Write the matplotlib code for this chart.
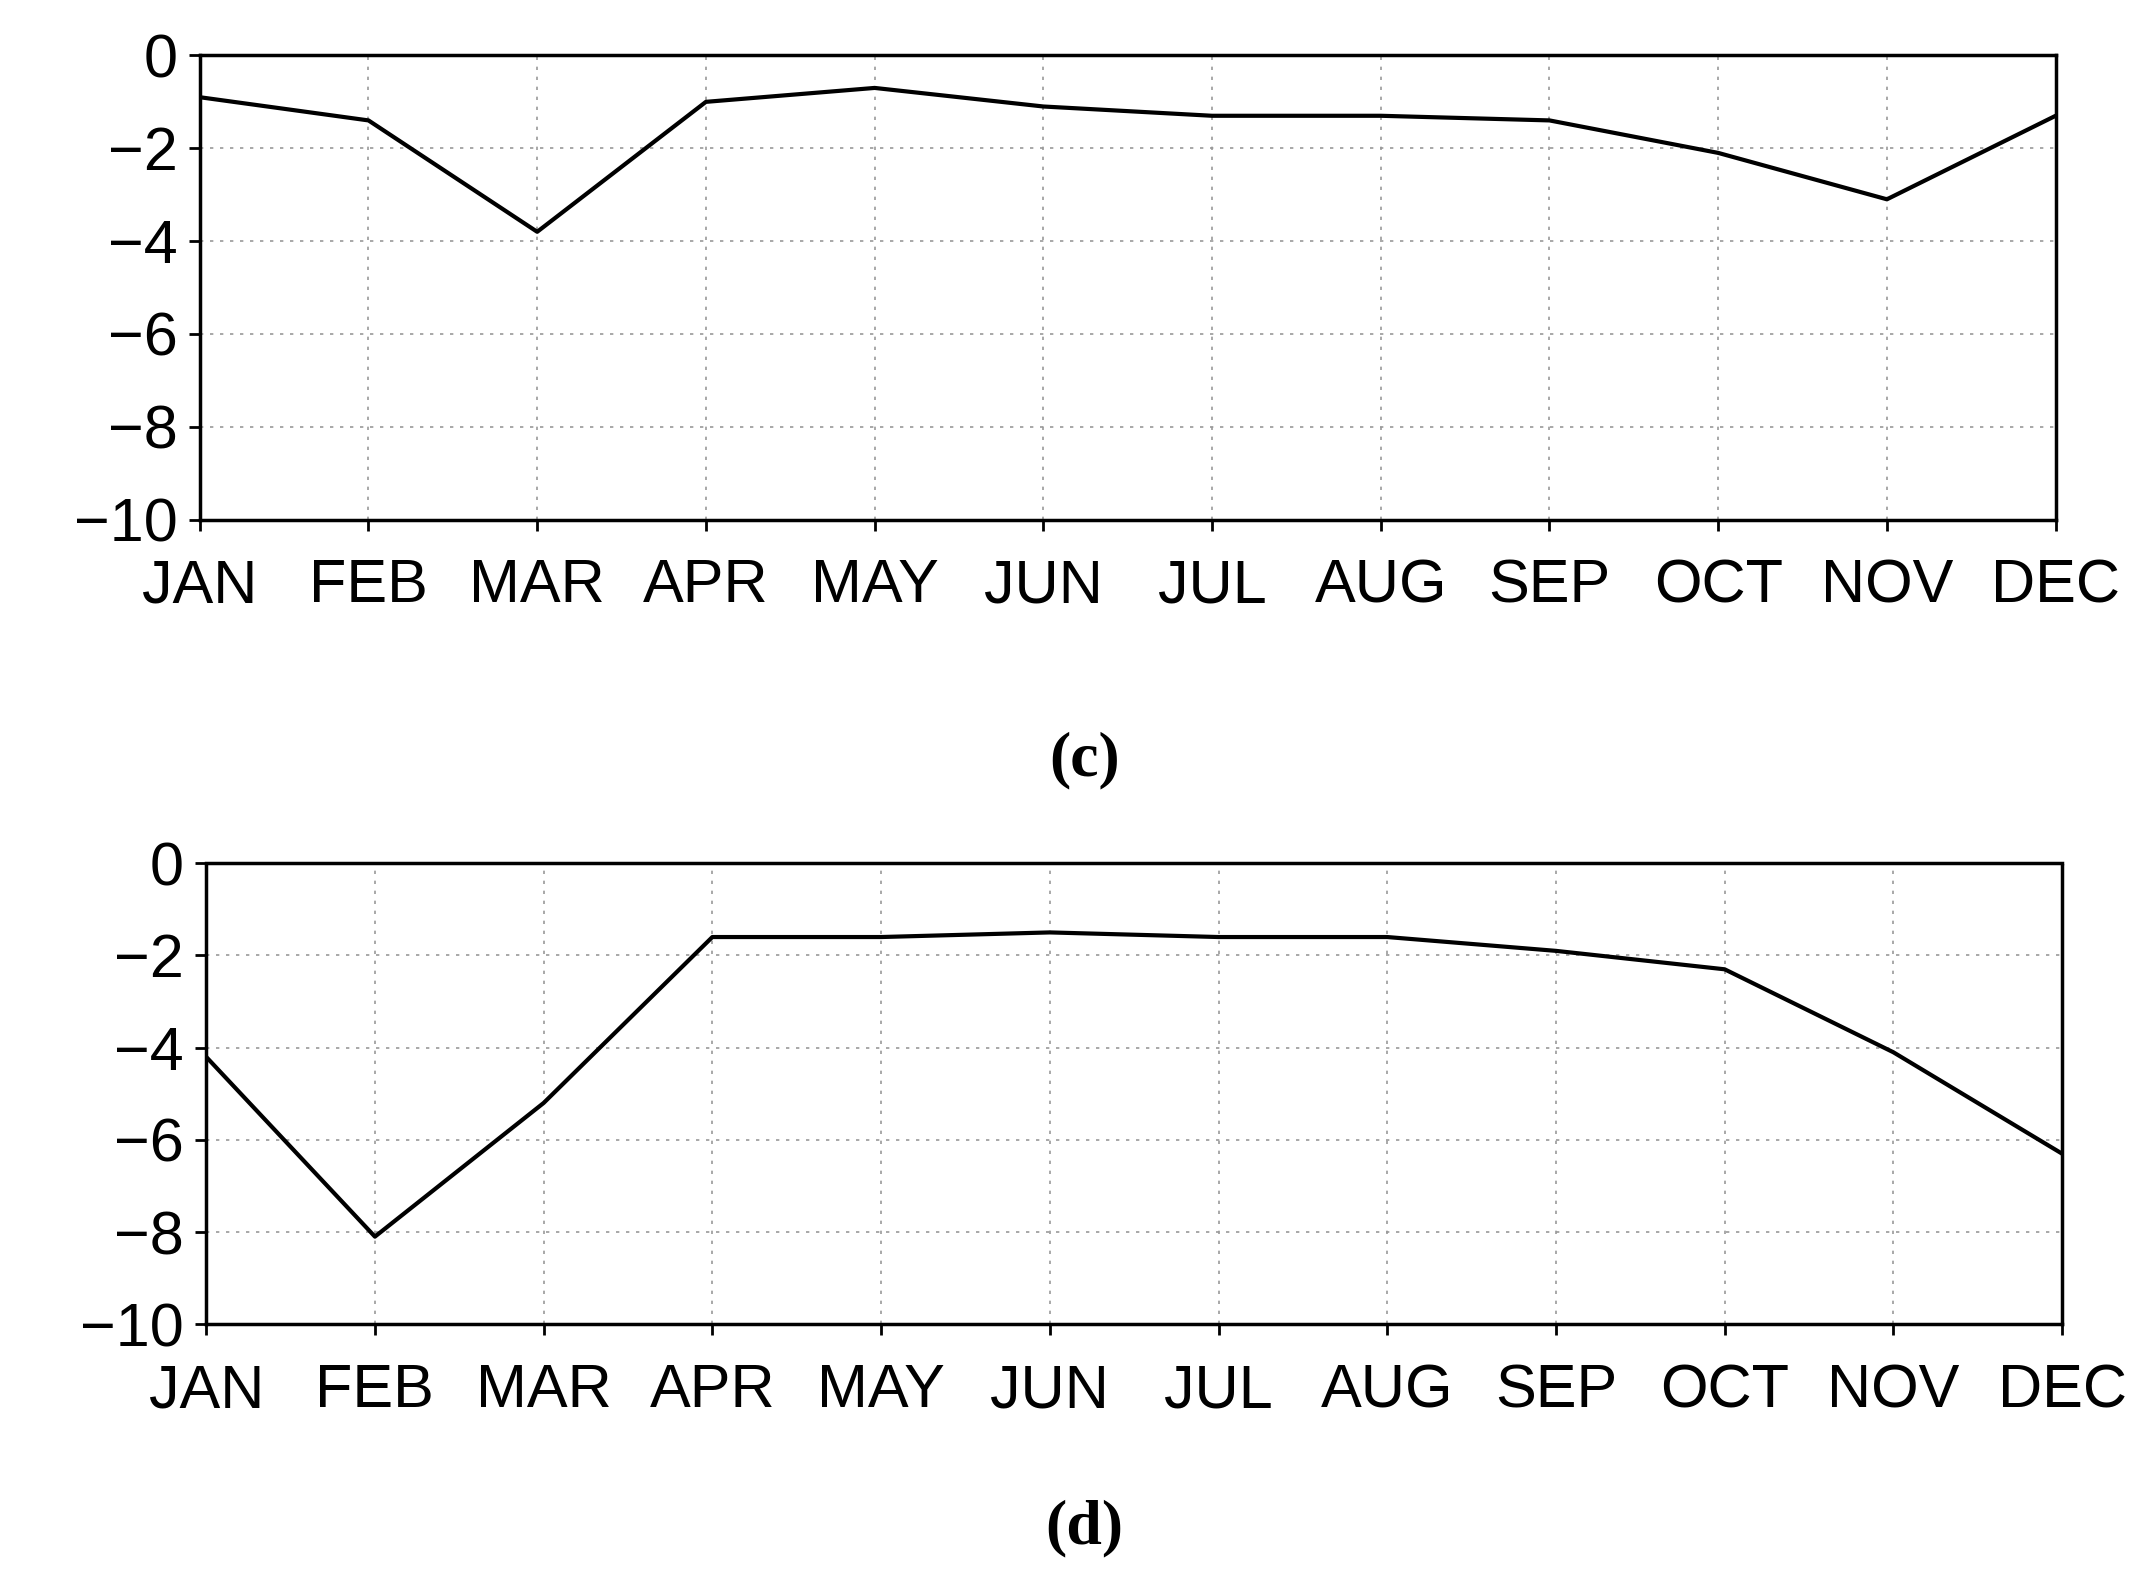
import numpy as np
import matplotlib.pyplot as plt

plt.rcParams['font.family'] = ['Liberation Sans', 'DejaVu Sans']

months = ["JAN", "FEB", "MAR", "APR", "MAY", "JUN", "JUL", "AUG", "SEP", "OCT", "NOV", "DEC"]
vals_c = [-0.9, -1.4, -3.8, -1.0, -0.7, -1.1, -1.3, -1.3, -1.4, -2.1, -3.1, -1.3]
vals_d = [-4.2, -8.1, -5.2, -1.6, -1.6, -1.5, -1.6, -1.6, -1.9, -2.3, -4.1, -6.3]
yticks = [0, -2, -4, -6, -8, -10]
ylabels = ["0", "\u22122", "\u22124", "\u22126", "\u22128", "\u221210"]

fig = plt.figure(figsize=(21.48, 15.84), dpi=100)
ax_c = fig.add_axes([0.093, 0.672, 0.864, 0.293])
ax_d = fig.add_axes([0.096, 0.164, 0.864, 0.291])

x = np.arange(len(months))
for ax, vals in [(ax_c, vals_c), (ax_d, vals_d)]:
    ax.plot(x, vals, color='black', lw=3)
    ax.set_xlim(0, 11)
    ax.set_ylim(-10, 0)
    ax.set_xticks(x)
    ax.set_xticklabels(months)
    ax.set_yticks(yticks)
    ax.set_yticklabels(ylabels)
    ax.grid(True, color='#999999', linestyle=(0, (2, 4)), lw=1.2)
    ax.tick_params(direction='out', length=8, width=2, labelsize=44)
    ax.tick_params(axis='x', pad=20)
    ax.tick_params(axis='y', pad=8)
    for s in ax.spines.values():
        s.set_linewidth(2.5)
        s.set_linestyle((0, (6, 1)))

fig.text(0.505, 0.52, "(c)", ha='center', va='center', fontsize=46,
         fontweight='bold', family='Liberation Serif')
fig.text(0.505, 0.035, "(d)", ha='center', va='center', fontsize=46,
         fontweight='bold', family='Liberation Serif')

fig.savefig("out.png", dpi=100)
